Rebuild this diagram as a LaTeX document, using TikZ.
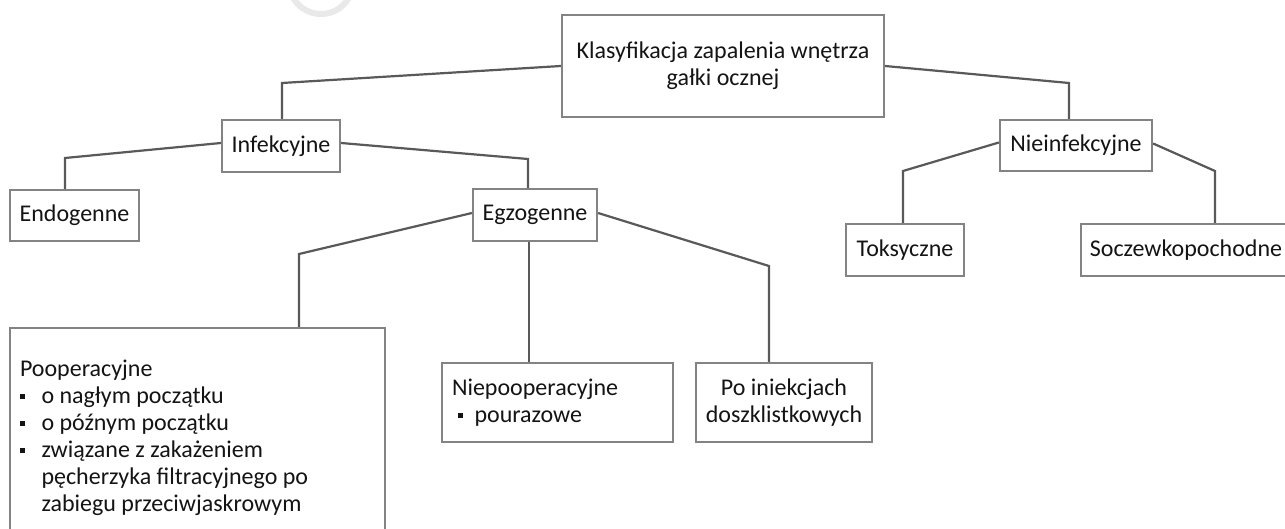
\documentclass[tikz,border=0pt]{standalone}
\usepackage{fontspec}
\setmainfont{Carlito}
\definecolor{linec}{HTML}{595959}
\definecolor{boxc}{HTML}{838383}
\definecolor{textc}{HTML}{141414}
\definecolor{wmark}{HTML}{E9E9E9}
\newcommand{\bul}{\raisebox{4pt}{\rule{4.5pt}{5pt}}}
\begin{document}
\begin{tikzpicture}[x=1pt,y=-1pt,
 box/.style={draw=boxc, line width=2.2pt, fill=white, inner sep=0pt, text=textc,
   font=\fontsize{24}{27}\selectfont, align=center},
 conn/.style={draw=linec, line width=2.2pt, line join=miter}]
\clip (0,0) rectangle (1285,529);
\fill[white] (0,0) rectangle (1285,529);
\draw[wmark, line width=6pt] (321,-18) circle (32pt);

\node[box, minimum width=322pt, minimum height=102pt] (root) at (723,66) {Klasyfikacja zapalenia wnętrza\\gałki ocznej};
\node[box, minimum width=118pt, minimum height=52pt] (inf) at (281,146) {Infekcyjne};
\node[box, minimum width=129pt, minimum height=51pt] (endo) at (74.5,215.5) {Endogenne};
\node[box, minimum width=124pt, minimum height=52pt] (egzo) at (535,215) {Egzogenne};
\node[box, minimum width=375pt, minimum height=219pt, align=flush left, text width=355pt] (poop) at (197.5,437.5)
 {Pooperacyjne\\
  \hspace*{0pt}\bul\hspace{17pt}o nagłym początku\\
  \hspace*{0pt}\bul\hspace{17pt}o późnym początku\\
  \hspace*{0pt}\bul\hspace{17pt}związane z zakażeniem\\
  \hspace*{21.5pt}pęcherzyka filtracyjnego po\\
  \hspace*{21.5pt}zabiegu przeciwjaskrowym};
\node[box, minimum width=231pt, minimum height=79pt, align=flush left, text width=211pt] (niepo) at (557.5,402.5)
 {Niepooperacyjne\\\hspace*{6pt}\bul\hspace{12pt}pourazowe};
\node[box, minimum width=176pt, minimum height=79pt] (poin) at (784,402.5) {Po iniekcjach\\doszklistkowych};
\node[box, minimum width=152pt, minimum height=51pt] (niein) at (1076,145.5) {Nieinfekcyjne};
\node[box, minimum width=118pt, minimum height=52pt] (toks) at (905,250) {Toksyczne};
\node[box, minimum width=210pt, minimum height=52pt] (socz) at (1186,250) {Soczewkopochodne};

\coordinate (c1) at (282,83);
\coordinate (c2) at (65,158);
\coordinate (c3) at (528,159);
\coordinate (c4) at (299,254);
\coordinate (c5) at (529,241);
\coordinate (c6) at (769,266);
\coordinate (c7) at (1069,83);
\coordinate (c8) at (903,171);
\coordinate (c9) at (1215,171);

\draw[conn] (root.west) -- (c1) -- (c1 |- inf.north);
\draw[conn] ([yshift=3pt]inf.west) -- (c2) -- (c2 |- endo.north);
\draw[conn] ([yshift=3pt]inf.east) -- (c3) -- (c3 |- egzo.north);
\draw[conn] ([yshift=2pt]egzo.west) -- (c4) -- (c4 |- poop.north);
\draw[conn] (c5 |- egzo.south) -- (c5 |- niepo.north);
\draw[conn] ([yshift=2pt]egzo.east) -- (c6) -- (c6 |- poin.north);
\draw[conn] (root.east) -- (c7) -- (c7 |- niein.north);
\draw[conn] ([yshift=3pt]niein.west) -- (c8) -- (c8 |- toks.north);
\draw[conn] ([yshift=2pt]niein.east) -- (c9) -- (c9 |- socz.north);
\end{tikzpicture}
\end{document}
